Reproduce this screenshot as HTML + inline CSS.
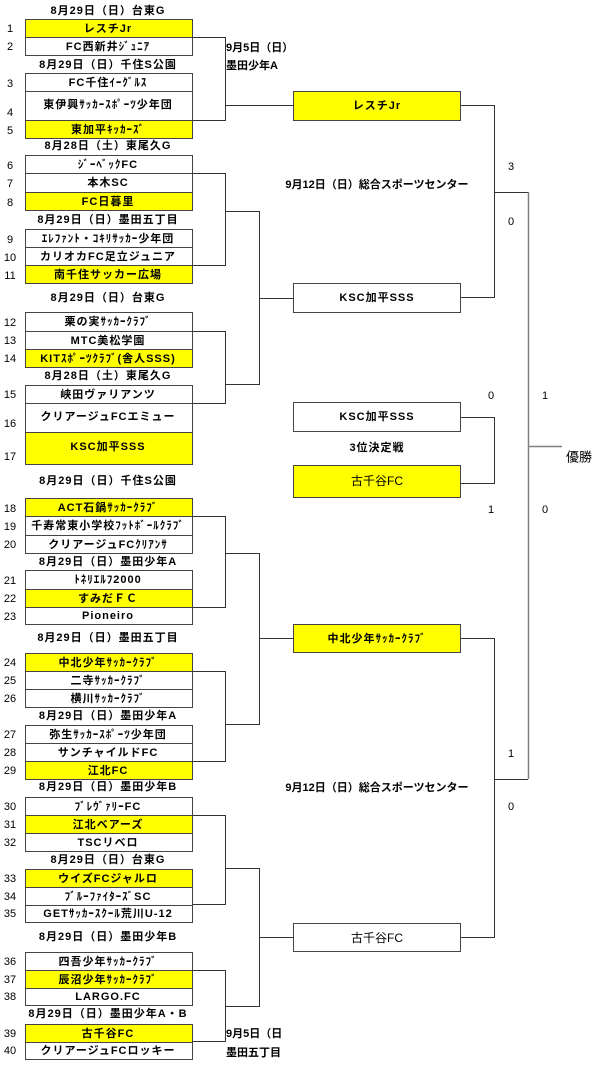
<!DOCTYPE html>
<html><head><meta charset="utf-8"><style>
html,body{margin:0;padding:0;background:#fff;}
svg{display:block;}
text{font-family:"Liberation Sans","Noto Sans CJK JP",sans-serif;}
.t{font-size:11px;font-weight:bold;text-anchor:middle;dominant-baseline:central;fill:#000;letter-spacing:1px;}
.n{font-size:11px;text-anchor:middle;dominant-baseline:central;fill:#000;}
.b{stroke:#444;stroke-width:1;}
.l{stroke:#333;stroke-width:1;fill:none;}
.g{stroke:#808080;stroke-width:1.5;fill:none;}
</style></head><body>
<svg width="600" height="1069" viewBox="0 0 600 1069" xmlns="http://www.w3.org/2000/svg">
<g>
<rect x="25.5" y="19.5" width="167" height="18" fill="#ffff00" class="b"/><text x="108" y="29" class="t">レスチJr</text><text x="10" y="29" class="n">1</text>
<rect x="25.5" y="37.5" width="167" height="18" fill="#fff" class="b"/><text x="108" y="47" class="t">FC西新井ｼﾞｭﾆｱ</text><text x="10" y="47" class="n">2</text>
<rect x="25.5" y="73.5" width="167" height="18" fill="#fff" class="b"/><text x="108" y="83" class="t">FC千住ｲｰｸﾞﾙｽ</text><text x="10" y="84" class="n">3</text>
<rect x="25.5" y="91.5" width="167" height="29" fill="#fff" class="b"/><text x="108" y="105" class="t">東伊興ｻｯｶｰｽﾎﾟｰﾂ少年団</text><text x="10" y="113" class="n">4</text>
<rect x="25.5" y="120.5" width="167" height="18" fill="#ffff00" class="b"/><text x="108" y="130" class="t">東加平ｷｯｶｰｽﾞ</text><text x="10" y="131" class="n">5</text>
<rect x="25.5" y="155.5" width="167" height="18" fill="#fff" class="b"/><text x="108" y="165" class="t">ｼﾞｰﾍﾞｯｸFC</text><text x="10" y="166" class="n">6</text>
<rect x="25.5" y="173.5" width="167" height="19" fill="#fff" class="b"/><text x="108" y="183" class="t">本木SC</text><text x="10" y="184" class="n">7</text>
<rect x="25.5" y="192.5" width="167" height="18" fill="#ffff00" class="b"/><text x="108" y="202" class="t">FC日暮里</text><text x="10" y="203" class="n">8</text>
<rect x="25.5" y="229.5" width="167" height="18" fill="#fff" class="b"/><text x="108" y="239" class="t">ｴﾚﾌｧﾝﾄ・ｺｷﾘｻｯｶｰ少年団</text><text x="10" y="240" class="n">9</text>
<rect x="25.5" y="247.5" width="167" height="18" fill="#fff" class="b"/><text x="108" y="257" class="t">カリオカFC足立ジュニア</text><text x="10" y="258" class="n">10</text>
<rect x="25.5" y="265.5" width="167" height="18" fill="#ffff00" class="b"/><text x="108" y="275" class="t">南千住サッカー広場</text><text x="10" y="276" class="n">11</text>
<rect x="25.5" y="312.5" width="167" height="19" fill="#fff" class="b"/><text x="108" y="322" class="t">栗の実ｻｯｶｰｸﾗﾌﾞ</text><text x="10" y="323" class="n">12</text>
<rect x="25.5" y="331.5" width="167" height="18" fill="#fff" class="b"/><text x="108" y="341" class="t">MTC美松学園</text><text x="10" y="341" class="n">13</text>
<rect x="25.5" y="349.5" width="167" height="18" fill="#ffff00" class="b"/><text x="108" y="359" class="t">KITｽﾎﾟｰﾂｸﾗﾌﾞ(舎人SSS)</text><text x="10" y="359" class="n">14</text>
<rect x="25.5" y="385.5" width="167" height="18" fill="#fff" class="b"/><text x="108" y="395" class="t">峡田ヴァリアンツ</text><text x="10" y="395" class="n">15</text>
<rect x="25.5" y="403.5" width="167" height="29" fill="#fff" class="b"/><text x="108" y="417" class="t">クリアージュFCエミュー</text><text x="10" y="424" class="n">16</text>
<rect x="25.5" y="432.5" width="167" height="32" fill="#ffff00" class="b"/><text x="108" y="447" class="t">KSC加平SSS</text><text x="10" y="457" class="n">17</text>
<rect x="25.5" y="498.5" width="167" height="18" fill="#ffff00" class="b"/><text x="108" y="508" class="t">ACT石鍋ｻｯｶｰｸﾗﾌﾞ</text><text x="10" y="509" class="n">18</text>
<rect x="25.5" y="516.5" width="167" height="19" fill="#fff" class="b"/><text x="108" y="526" class="t">千寿常東小学校ﾌｯﾄﾎﾞｰﾙｸﾗﾌﾞ</text><text x="10" y="527" class="n">19</text>
<rect x="25.5" y="535.5" width="167" height="18" fill="#fff" class="b"/><text x="108" y="545" class="t">クリアージュFCｸﾘｱﾝｻ</text><text x="10" y="545" class="n">20</text>
<rect x="25.5" y="570.5" width="167" height="19" fill="#fff" class="b"/><text x="108" y="580" class="t">ﾄﾈﾘｴﾙﾌ2000</text><text x="10" y="581" class="n">21</text>
<rect x="25.5" y="589.5" width="167" height="18" fill="#ffff00" class="b"/><text x="108" y="599" class="t">すみだＦＣ</text><text x="10" y="599" class="n">22</text>
<rect x="25.5" y="607.5" width="167" height="17" fill="#fff" class="b"/><text x="108" y="616" class="t">Pioneiro</text><text x="10" y="617" class="n">23</text>
<rect x="25.5" y="653.5" width="167" height="18" fill="#ffff00" class="b"/><text x="108" y="663" class="t">中北少年ｻｯｶｰｸﾗﾌﾞ</text><text x="10" y="663" class="n">24</text>
<rect x="25.5" y="671.5" width="167" height="18" fill="#fff" class="b"/><text x="108" y="681" class="t">二寺ｻｯｶｰｸﾗﾌﾞ</text><text x="10" y="681" class="n">25</text>
<rect x="25.5" y="689.5" width="167" height="18" fill="#fff" class="b"/><text x="108" y="699" class="t">横川ｻｯｶｰｸﾗﾌﾞ</text><text x="10" y="699" class="n">26</text>
<rect x="25.5" y="725.5" width="167" height="18" fill="#fff" class="b"/><text x="108" y="735" class="t">弥生ｻｯｶｰｽﾎﾟｰﾂ少年団</text><text x="10" y="735" class="n">27</text>
<rect x="25.5" y="743.5" width="167" height="18" fill="#fff" class="b"/><text x="108" y="753" class="t">サンチャイルドFC</text><text x="10" y="753" class="n">28</text>
<rect x="25.5" y="761.5" width="167" height="18" fill="#ffff00" class="b"/><text x="108" y="771" class="t">江北FC</text><text x="10" y="771" class="n">29</text>
<rect x="25.5" y="797.5" width="167" height="18" fill="#fff" class="b"/><text x="108" y="807" class="t">ﾌﾞﾚｳﾞｧﾘｰFC</text><text x="10" y="807" class="n">30</text>
<rect x="25.5" y="815.5" width="167" height="18" fill="#ffff00" class="b"/><text x="108" y="825" class="t">江北ベアーズ</text><text x="10" y="825" class="n">31</text>
<rect x="25.5" y="833.5" width="167" height="18" fill="#fff" class="b"/><text x="108" y="843" class="t">TSCリベロ</text><text x="10" y="843" class="n">32</text>
<rect x="25.5" y="869.5" width="167" height="18" fill="#ffff00" class="b"/><text x="108" y="879" class="t">ウイズFCジャルロ</text><text x="10" y="879" class="n">33</text>
<rect x="25.5" y="887.5" width="167" height="18" fill="#fff" class="b"/><text x="108" y="897" class="t">ﾌﾞﾙｰﾌｧｲﾀｰｽﾞSC</text><text x="10" y="897" class="n">34</text>
<rect x="25.5" y="905.5" width="167" height="17" fill="#fff" class="b"/><text x="108" y="914" class="t">GETｻｯｶｰｽｸｰﾙ荒川U-12</text><text x="10" y="914" class="n">35</text>
<rect x="25.5" y="952.5" width="167" height="18" fill="#fff" class="b"/><text x="108" y="962" class="t">四吾少年ｻｯｶｰｸﾗﾌﾞ</text><text x="10" y="962" class="n">36</text>
<rect x="25.5" y="970.5" width="167" height="18" fill="#ffff00" class="b"/><text x="108" y="980" class="t">辰沼少年ｻｯｶｰｸﾗﾌﾞ</text><text x="10" y="980" class="n">37</text>
<rect x="25.5" y="988.5" width="167" height="17" fill="#fff" class="b"/><text x="108" y="997" class="t">LARGO.FC</text><text x="10" y="997" class="n">38</text>
<rect x="25.5" y="1024.5" width="167" height="18" fill="#ffff00" class="b"/><text x="108" y="1034" class="t">古千谷FC</text><text x="10" y="1034" class="n">39</text>
<rect x="25.5" y="1042.5" width="167" height="17" fill="#fff" class="b"/><text x="108" y="1051" class="t">クリアージュFCロッキー</text><text x="10" y="1051" class="n">40</text>
</g>
<g>
<text x="108" y="11" class="t">8月29日（日）台東G</text>
<text x="108" y="65" class="t">8月29日（日）千住S公園</text>
<text x="108" y="146" class="t">8月28日（土）東尾久G</text>
<text x="108" y="220" class="t">8月29日（日）墨田五丁目</text>
<text x="108" y="298" class="t">8月29日（日）台東G</text>
<text x="108" y="376" class="t">8月28日（土）東尾久G</text>
<text x="108" y="481" class="t">8月29日（日）千住S公園</text>
<text x="108" y="562" class="t">8月29日（日）墨田少年A</text>
<text x="108" y="638" class="t">8月29日（日）墨田五丁目</text>
<text x="108" y="716" class="t">8月29日（日）墨田少年A</text>
<text x="108" y="787" class="t">8月29日（日）墨田少年B</text>
<text x="108" y="860" class="t">8月29日（日）台東G</text>
<text x="108" y="937" class="t">8月29日（日）墨田少年B</text>
<text x="108" y="1014" class="t">8月29日（日）墨田少年A・B</text>
</g>
<g class="l">
<path d="M192 37.5H225.5V120.5H192"/><path d="M225.5 105.5H293"/>
<path d="M192 173.5H225.5V265.5H192"/><path d="M225.5 211.5H259.5V384.5H225.5"/><path d="M259.5 298.5H293"/>
<path d="M192 331.5H225.5V403.5H192"/>
<path d="M192 516.5H225.5V607.5H192"/><path d="M225.5 553.5H259.5V724.5H225.5"/><path d="M259.5 638.5H293"/>
<path d="M192 671.5H225.5V761.5H192"/>
<path d="M192 815.5H225.5V904.5H192"/><path d="M225.5 868.5H259.5V1006.5H225.5"/><path d="M259.5 937.5H293"/>
<path d="M192 970.5H225.5V1041.5H192"/>
<path d="M461 105.5H494.5V297.5H461"/><path d="M494.5 192.5H528"/>
<path d="M461 417.5H494.5V483.5H461"/>
<path d="M461 638.5H494.5V937.5H461"/><path d="M494.5 779.5H528"/>
</g>
<g class="g"><path d="M528.5 192V779"/><path d="M528.5 446.5H562"/></g>
<rect x="293.5" y="91.5" width="167" height="29" fill="#ffff00" class="b"/><text x="377" y="106" class="t">レスチJr</text>
<rect x="293.5" y="283.5" width="167" height="29" fill="#fff" class="b"/><text x="377" y="298" class="t">KSC加平SSS</text>
<rect x="293.5" y="402.5" width="167" height="29" fill="#fff" class="b"/><text x="377" y="417" class="t">KSC加平SSS</text>
<text x="377" y="448" class="t">3位決定戦</text>
<rect x="293.5" y="465.5" width="167" height="32" fill="#ffff00" class="b"/><text x="377" y="481" class="n" style="font-size:12px">古千谷FC</text>
<rect x="293.5" y="624.5" width="167" height="28" fill="#ffff00" class="b"/><text x="377" y="639" class="t">中北少年ｻｯｶｰｸﾗﾌﾞ</text>
<rect x="293.5" y="923.5" width="167" height="28" fill="#fff" class="b"/><text x="377" y="938" class="n" style="font-size:12px">古千谷FC</text>
<text x="226" y="48" class="n" style="text-anchor:start;font-weight:bold">9月5日（日）</text>
<text x="226" y="66" class="n" style="text-anchor:start;font-weight:bold">墨田少年A</text>
<text x="226" y="1034" class="n" style="text-anchor:start;font-weight:bold">9月5日（日</text>
<text x="226" y="1053" class="n" style="text-anchor:start;font-weight:bold">墨田五丁目</text>
<text x="377" y="185" class="n" style="font-weight:bold">9月12日（日）総合スポーツセンター</text>
<text x="377" y="788" class="n" style="font-weight:bold">9月12日（日）総合スポーツセンター</text>
<text x="511" y="167" class="n">3</text><text x="511" y="222" class="n">0</text>
<text x="491" y="396" class="n">0</text><text x="491" y="510" class="n">1</text>
<text x="545" y="396" class="n">1</text><text x="545" y="510" class="n">0</text>
<text x="511" y="754" class="n">1</text><text x="511" y="807" class="n">0</text>
<text x="579" y="457" class="n" style="font-size:13px">優勝</text>
</svg>
</body></html>
